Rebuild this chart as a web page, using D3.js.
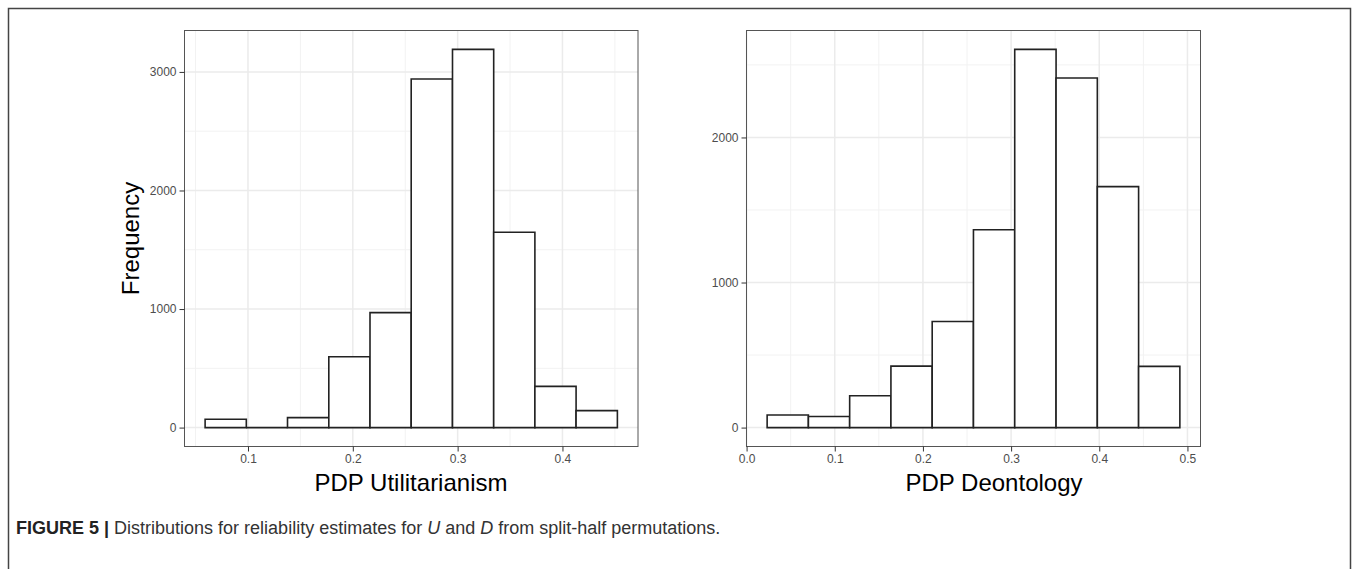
<!DOCTYPE html>
<html>
<head>
<meta charset="utf-8">
<script src="https://cdn.jsdelivr.net/npm/d3@7"></script>
<style>
  body { margin: 0; background: #fff; }
  svg { display: block; font-family: "Liberation Sans", Arial, sans-serif; }
  .tick text { fill: #4d4d4d; font-size: 12px; }
  .tick line { stroke: #333; }
</style>
</head>
<body>
<svg id="fig" width="1358" height="569"></svg>
<script>
//======= data =======//
let utilEdges = [0.0591, 0.0984, 0.1377, 0.1771, 0.2164, 0.2557, 0.2951, 0.3344, 0.3737, 0.4130, 0.4524];
let utilCounts = [70, 0, 84, 597, 970, 2941, 3190, 1648, 348, 143];
let utilXTicks = [0.1, 0.2, 0.3, 0.4];
let utilYTicks = [0, 1000, 2000, 3000];

let deonEdges = [0.0233, 0.0701, 0.1169, 0.1637, 0.2105, 0.2573, 0.3041, 0.3510, 0.3978, 0.4446, 0.4914];
let deonCounts = [87, 76, 219, 424, 731, 1364, 2607, 2410, 1661, 422];
let deonXTicks = [0.0, 0.1, 0.2, 0.3, 0.4, 0.5];
let deonYTicks = [0, 1000, 2000];

let svg = d3.select('#fig');

// outer figure frame (bottom edge runs off the page)
svg.append('path')
  .attr('d', 'M8.5,569 L8.5,8.5 L1350.5,8.5 L1350.5,569')
  .attr('fill', 'none')
  .attr('stroke', '#444')
  .attr('stroke-width', 1.5);

function drawPanel(o) {
  let g = svg.append('g');
  let lo = o.edges[0], hi = o.edges[o.edges.length - 1];
  let padX = (hi - lo) * 0.05;
  let maxY = d3.max(o.counts);

  let x = d3.scaleLinear().domain([lo - padX, hi + padX]).range([o.left, o.right]);
  let y = d3.scaleLinear().domain([-maxY * 0.05, maxY * 1.05]).range([o.bottom, o.top]);

  // minor grid
  let minorX = o.xTicks.slice(0, -1).map((t, i) => (t + o.xTicks[i + 1]) / 2);
  if (o.xTicks[0] - 0.05 > x.domain()[0]) minorX.unshift(o.xTicks[0] - 0.05);
  let lastX = o.xTicks[o.xTicks.length - 1];
  if (lastX + 0.05 < x.domain()[1]) minorX.push(lastX + 0.05);
  let minorY = o.yTicks.map(t => t + 500).filter(t => t < y.domain()[1]);

  g.selectAll('.minx').data(minorX).enter().append('line')
    .attr('x1', d => x(d)).attr('x2', d => x(d))
    .attr('y1', o.top).attr('y2', o.bottom)
    .attr('stroke', '#f2f2f2').attr('stroke-width', 1);
  g.selectAll('.miny').data(minorY).enter().append('line')
    .attr('y1', d => y(d)).attr('y2', d => y(d))
    .attr('x1', o.left).attr('x2', o.right)
    .attr('stroke', '#f2f2f2').attr('stroke-width', 1);

  // major grid
  g.selectAll('.majx').data(o.xTicks).enter().append('line')
    .attr('x1', d => x(d)).attr('x2', d => x(d))
    .attr('y1', o.top).attr('y2', o.bottom)
    .attr('stroke', '#ebebeb').attr('stroke-width', 1.5);
  g.selectAll('.majy').data(o.yTicks).enter().append('line')
    .attr('y1', d => y(d)).attr('y2', d => y(d))
    .attr('x1', o.left).attr('x2', o.right)
    .attr('stroke', '#ebebeb').attr('stroke-width', 1.5);

  // bars (paths so that empty bins still show their base line)
  let bins = o.counts.map((c, i) => ({ x0: o.edges[i], x1: o.edges[i + 1], n: c }));
  g.selectAll('.bar').data(bins).enter().append('path')
    .attr('d', d => {
      let a = x(d.x0), b = x(d.x1), t = y(d.n), z = y(0);
      return 'M' + a + ',' + z + 'L' + a + ',' + t + 'L' + b + ',' + t + 'L' + b + ',' + z + 'Z';
    })
    .attr('fill', '#fff')
    .attr('stroke', '#222')
    .attr('stroke-width', 1.6);

  // panel border
  g.append('rect')
    .attr('x', o.left).attr('y', o.top)
    .attr('width', o.right - o.left).attr('height', o.bottom - o.top)
    .attr('fill', 'none').attr('stroke', '#555').attr('stroke-width', 1);

  // axes
  let xAxis = g.append('g')
    .attr('transform', 'translate(0,' + o.bottom + ')')
    .call(d3.axisBottom(x).tickValues(o.xTicks).tickSize(5).tickPadding(3).tickFormat(d3.format('.1f')));
  xAxis.select('.domain').remove();

  let yAxis = g.append('g')
    .attr('transform', 'translate(' + o.left + ',0)')
    .call(d3.axisLeft(y).tickValues(o.yTicks).tickSize(5).tickPadding(3).tickFormat(d3.format('d')));
  yAxis.select('.domain').remove();

  g.append('text')
    .attr('x', o.titleX)
    .attr('y', 491)
    .attr('text-anchor', 'middle')
    .attr('font-size', 24)
    .attr('fill', '#000')
    .text(o.title);
}

drawPanel({
  edges: utilEdges, counts: utilCounts, xTicks: utilXTicks, yTicks: utilYTicks,
  left: 184.5, right: 638, top: 30.5, bottom: 446.5,
  title: 'PDP Utilitarianism', titleX: 411
});

drawPanel({
  edges: deonEdges, counts: deonCounts, xTicks: deonXTicks, yTicks: deonYTicks,
  left: 746.5, right: 1200.5, top: 30.5, bottom: 446.5,
  title: 'PDP Deontology', titleX: 994
});

svg.append('text')
  .attr('x', 130)
  .attr('y', 238.5)
  .attr('transform', 'rotate(-90,130,238.5)')
  .attr('text-anchor', 'middle')
  .attr('dominant-baseline', 'central')
  .attr('font-size', 24)
  .text('Frequency');

// caption
let cap = svg.append('text')
  .attr('x', 16)
  .attr('y', 534)
  .attr('font-size', 18)
  .attr('fill', '#333');
cap.append('tspan').attr('font-weight', 'bold').attr('fill', '#222').text('FIGURE 5 | ');
cap.append('tspan').text('Distributions for reliability estimates for ');
cap.append('tspan').attr('font-style', 'italic').text('U');
cap.append('tspan').text(' and ');
cap.append('tspan').attr('font-style', 'italic').text('D');
cap.append('tspan').text(' from split-half permutations.');
</script>
</body>
</html>
